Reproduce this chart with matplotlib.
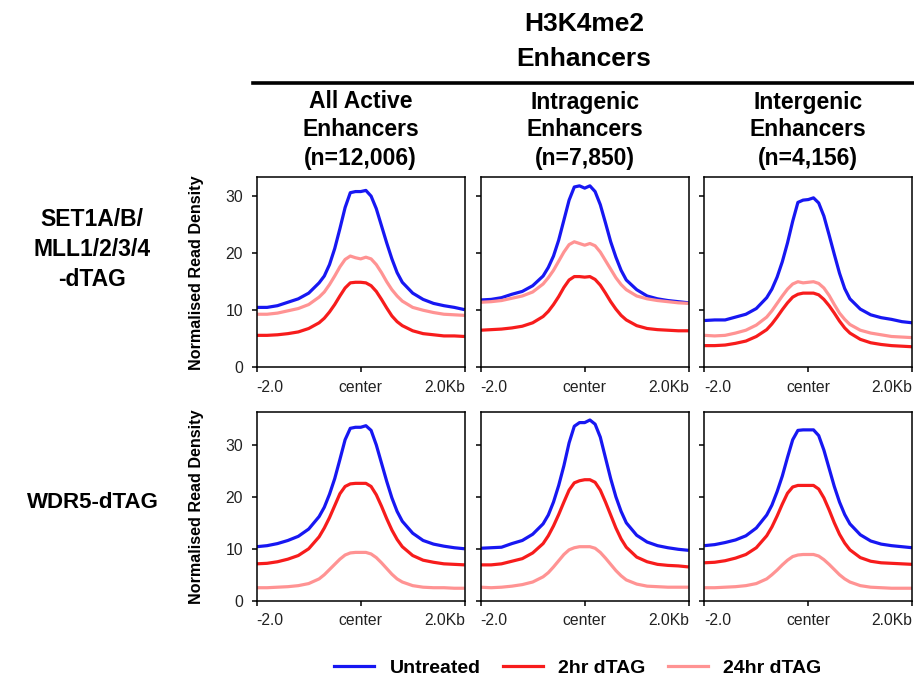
import matplotlib
matplotlib.use("Agg")
import matplotlib.pyplot as plt
from matplotlib.lines import Line2D

plt.rcParams['font.family'] = ['Liberation Sans', 'DejaVu Sans']

# Position relative to enhancer centre (bp)
positions = [-2000, -1800, -1600, -1400, -1200, -1000, -800, -700, -600, -500,
             -400, -300, -200, -100, 0, 100, 200, 300, 400, 500,
             600, 700, 800, 1000, 1200, 1400, 1600, 1800, 2000]

conditions = ["Untreated", "2hr dTAG", "24hr dTAG"]
header_lines = ["H3K4me2", "Enhancers"]
column_titles = [["All Active", "Enhancers", "(n=12,006)"],
                 ["Intragenic", "Enhancers", "(n=7,850)"],
                 ["Intergenic", "Enhancers", "(n=4,156)"]]
row_titles = [["SET1A/B/", "MLL1/2/3/4", "-dTAG"], ["WDR5-dTAG"]]
x_tick_labels = ["-2.0", "center", "2.0Kb"]
y_ticks = [0, 10, 20, 30]

# SET1A/B/MLL1/2/3/4-dTAG
set1_all_untreated = [10.5, 10.5, 10.8, 11.4, 12.0, 13.0, 14.8, 16.0, 18.0, 20.8,
                      24.3, 28.0, 30.6, 30.8, 30.8, 31.0, 30.0, 27.8, 24.8, 21.8,
                      19.0, 16.6, 14.9, 13.0, 11.9, 11.2, 10.8, 10.5, 10.1]
set1_all_2hr = [5.6, 5.6, 5.7, 5.9, 6.2, 6.8, 7.8, 8.6, 9.7, 11.0,
                12.5, 13.9, 14.8, 14.9, 14.9, 14.8, 14.3, 13.3, 11.9, 10.4,
                9.0, 8.0, 7.3, 6.4, 5.9, 5.7, 5.5, 5.5, 5.4]
set1_all_24hr = [9.3, 9.3, 9.5, 9.9, 10.3, 11.0, 12.3, 13.2, 14.5, 16.0,
                 17.6, 18.9, 19.5, 19.2, 19.0, 19.3, 19.0, 18.0, 16.6, 15.0,
                 13.6, 12.5, 11.6, 10.5, 10.0, 9.6, 9.3, 9.2, 9.1]

set1_intra_untreated = [11.8, 11.9, 12.2, 12.8, 13.3, 14.3, 16.0, 17.5, 19.5, 22.3,
                        25.8, 29.3, 31.6, 31.8, 31.4, 31.8, 30.8, 28.5, 25.3, 22.0,
                        19.3, 17.0, 15.3, 13.6, 12.5, 12.0, 11.7, 11.5, 11.3]
set1_intra_2hr = [6.5, 6.6, 6.7, 6.9, 7.2, 7.8, 8.9, 9.8, 11.0, 12.4,
                  14.0, 15.3, 15.9, 15.9, 15.8, 15.9, 15.4, 14.4, 13.0, 11.5,
                  10.2, 9.1, 8.3, 7.3, 6.8, 6.6, 6.5, 6.4, 6.4]
set1_intra_24hr = [11.4, 11.5, 11.7, 12.1, 12.5, 13.2, 14.6, 15.7, 17.0, 18.6,
                   20.2, 21.5, 22.0, 21.7, 21.4, 21.7, 21.3, 20.2, 18.7, 17.2,
                   15.7, 14.5, 13.6, 12.5, 12.0, 11.7, 11.5, 11.3, 11.2]

set1_inter_untreated = [8.2, 8.3, 8.3, 8.8, 9.3, 10.3, 12.2, 13.7, 15.8, 18.5,
                        21.8, 25.6, 28.9, 29.3, 29.4, 29.7, 28.8, 26.5, 23.2, 19.8,
                        16.5, 13.8, 12.0, 10.2, 9.2, 8.7, 8.4, 8.0, 7.8]
set1_inter_2hr = [3.8, 3.8, 3.9, 4.2, 4.6, 5.4, 6.6, 7.6, 8.8, 10.1,
                  11.3, 12.3, 12.8, 13.0, 13.0, 13.0, 12.7, 11.9, 10.8, 9.5,
                  8.1, 6.9, 6.0, 4.9, 4.3, 4.0, 3.8, 3.7, 3.6]
set1_inter_24hr = [5.6, 5.5, 5.6, 6.0, 6.5, 7.4, 8.8, 9.9, 11.2, 12.5,
                   13.7, 14.6, 15.0, 14.8, 14.9, 15.0, 14.7, 13.9, 12.6, 11.0,
                   9.5, 8.4, 7.5, 6.5, 6.0, 5.7, 5.4, 5.3, 5.2]

# WDR5-dTAG
wdr5_all_untreated = [10.4, 10.6, 11.0, 11.6, 12.4, 13.8, 16.2, 18.0, 20.5, 23.5,
                      27.2, 31.0, 33.2, 33.4, 33.4, 33.7, 32.8, 30.0, 26.5, 23.0,
                      19.8, 17.2, 15.3, 13.0, 11.6, 10.9, 10.5, 10.2, 10.0]
wdr5_all_2hr = [7.1, 7.2, 7.5, 8.0, 8.7, 10.0, 12.3, 14.0, 16.0, 18.3,
                20.6, 22.0, 22.5, 22.6, 22.6, 22.6, 22.0, 20.4, 18.2, 15.8,
                13.6, 11.8, 10.4, 8.7, 7.8, 7.4, 7.1, 7.0, 6.9]
wdr5_all_24hr = [2.5, 2.5, 2.6, 2.7, 2.9, 3.3, 4.2, 5.0, 6.0, 7.0,
                 8.0, 8.8, 9.2, 9.3, 9.3, 9.3, 9.0, 8.3, 7.3, 6.2,
                 5.1, 4.2, 3.6, 2.9, 2.6, 2.5, 2.5, 2.4, 2.4]

wdr5_intra_untreated = [10.1, 10.2, 10.3, 11.0, 11.6, 12.8, 14.8, 16.5, 19.0, 22.2,
                        26.0, 30.4, 33.6, 34.3, 34.3, 34.8, 34.0, 31.5, 27.5, 23.5,
                        20.0, 17.2, 15.0, 12.6, 11.3, 10.6, 10.2, 9.9, 9.7]
wdr5_intra_2hr = [6.9, 6.9, 7.1, 7.6, 8.1, 9.2, 11.0, 12.5, 14.4, 16.6,
                  19.0, 21.3, 22.7, 23.1, 23.3, 23.3, 22.8, 21.3, 19.0, 16.5,
                  14.0, 11.9, 10.3, 8.4, 7.5, 7.0, 6.8, 6.7, 6.5]
wdr5_intra_24hr = [2.6, 2.5, 2.6, 2.8, 3.1, 3.6, 4.6, 5.4, 6.5, 7.7,
                   8.9, 9.8, 10.2, 10.4, 10.4, 10.4, 10.1, 9.3, 8.2, 7.0,
                   5.8, 4.8, 4.0, 3.2, 2.8, 2.7, 2.6, 2.6, 2.6]

wdr5_inter_untreated = [10.6, 10.8, 11.2, 11.7, 12.5, 14.0, 16.5, 18.4, 21.0, 24.0,
                        27.6, 31.0, 32.8, 32.9, 32.9, 32.9, 31.8, 29.0, 25.5, 22.0,
                        19.0, 16.6, 14.8, 12.7, 11.5, 10.9, 10.6, 10.4, 10.2]
wdr5_inter_2hr = [7.3, 7.4, 7.7, 8.2, 8.9, 10.2, 12.5, 14.2, 16.3, 18.6,
                  20.7, 21.9, 22.2, 22.2, 22.2, 22.2, 21.5, 19.8, 17.5, 15.0,
                  12.8, 11.1, 9.8, 8.3, 7.6, 7.3, 7.2, 7.1, 7.0]
wdr5_inter_24hr = [2.5, 2.5, 2.6, 2.7, 2.9, 3.3, 4.2, 5.0, 5.9, 6.9,
                   7.8, 8.5, 8.8, 8.9, 8.9, 8.9, 8.6, 7.9, 7.0, 6.0,
                   5.0, 4.2, 3.6, 2.9, 2.6, 2.5, 2.4, 2.4, 2.4]

profiles = [
    [(set1_all_untreated, set1_all_2hr, set1_all_24hr),
     (set1_intra_untreated, set1_intra_2hr, set1_intra_24hr),
     (set1_inter_untreated, set1_inter_2hr, set1_inter_24hr)],
    [(wdr5_all_untreated, wdr5_all_2hr, wdr5_all_24hr),
     (wdr5_intra_untreated, wdr5_intra_2hr, wdr5_intra_24hr),
     (wdr5_inter_untreated, wdr5_inter_2hr, wdr5_inter_24hr)],
]

colors = ["#1717f2", "#f71c1c", "#ff9393"]
row_ylims = [33.3, 36.4]

W, H = 914, 680
fig = plt.figure(figsize=(W / 100, H / 100), dpi=100)


def fy(px):
    """Convert a pixel row (from the top) to figure fraction."""
    return 1 - px / H


col_left = [256.7, 480.7, 704.3]
col_width = 208.0
row_top = [177.3, 411.7]
row_bottom = [367.3, 600.7]

for r in range(2):
    for c in range(3):
        ax = fig.add_axes([col_left[c] / W, fy(row_bottom[r]),
                           col_width / W, (row_bottom[r] - row_top[r]) / H])
        for series, color in zip(profiles[r][c], colors):
            ax.plot(positions, series, color=color, lw=2.3,
                    solid_capstyle='butt', solid_joinstyle='round')
        ax.set_xlim(-2000, 2000)
        ax.set_ylim(0, row_ylims[r])
        ax.set_xticks([-2000, 0, 2000])
        ax.set_xticklabels(x_tick_labels)
        for lab, ha in zip(ax.get_xticklabels(), ["left", "center", "right"]):
            lab.set_horizontalalignment(ha)
        ax.set_yticks(y_ticks)
        if c != 0:
            ax.set_yticklabels([])
        ax.tick_params(axis='both', direction='out', length=3.8, width=1.1,
                       labelsize=11.3, labelcolor='#222222', color='black')
        ax.tick_params(axis='x', pad=5)
        ax.tick_params(axis='y', pad=6)
        for sp in ax.spines.values():
            sp.set_linewidth(1.1)
            sp.set_color('black')

# Shared header over the three enhancer sets
for line, ypx in zip(header_lines, [24, 59]):
    fig.text(584 / W, fy(ypx), line, ha='center', va='center',
             fontsize=19, fontweight='bold')
fig.add_artist(Line2D([253 / W, 1.0], [fy(83), fy(83)], color='black',
                      lw=2.6, transform=fig.transFigure))
for c, lines in enumerate(column_titles):
    for line, ypx in zip(lines, [102, 130, 158]):
        fig.text((col_left[c] + col_width / 2) / W, fy(ypx), line,
                 ha='center', va='center', fontsize=16.5, fontweight='bold')

# Row headers
for line, ypx in zip(row_titles[0], [220, 250, 280]):
    fig.text(92 / W, fy(ypx), line, ha='center', va='center',
             fontsize=16.5, fontweight='bold')
fig.text(93 / W, fy(502), row_titles[1][0], ha='center', va='center',
         fontsize=16, fontweight='bold')

# y-axis titles
for r in range(2):
    yc = fy((row_top[r] + row_bottom[r]) / 2)
    fig.text(196 / W, yc, "Normalised Read Density", ha='center', va='center',
             rotation=90, fontsize=11.6, fontweight='bold')

handles = [Line2D([], [], color=col, lw=2.3) for col in colors]
fig.legend(handles, conditions, loc='center', bbox_to_anchor=(578 / W, fy(668)),
           ncol=3, frameon=False, handlelength=2.06, handletextpad=0.8,
           columnspacing=1.13, prop={'weight': 'bold', 'size': 14})

fig.savefig("out.png", dpi=100)
